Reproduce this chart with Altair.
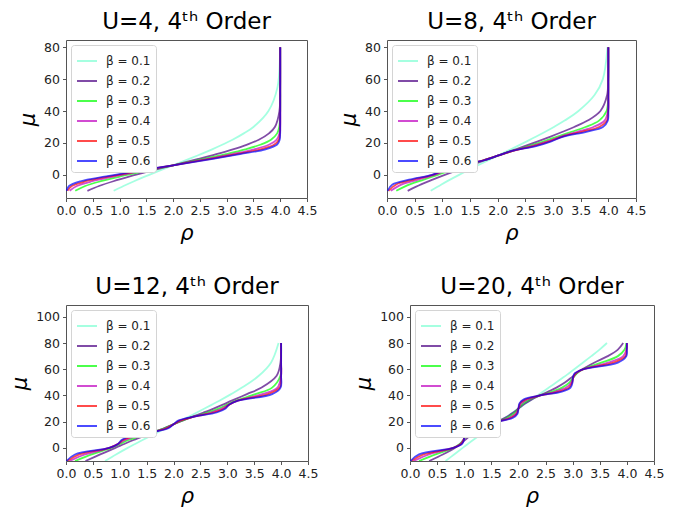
import altair as alt
import pandas as pd

BETA_LABELS = ["β = 0.1", "β = 0.2", "β = 0.3", "β = 0.4", "β = 0.5", "β = 0.6"]
COLORS = ["#7FFFD4", "#4B0082", "#00FF00", "#BF00BF", "#FF0000", "#0000FF"]

X_TICKS = [0.0, 0.5, 1.0, 1.5, 2.0, 2.5, 3.0, 3.5, 4.0, 4.5]
Y_TICKS_TOP = [0, 20, 40, 60, 80]
Y_TICKS_BOTTOM = [0, 20, 40, 60, 80, 100]

# ---------------- U = 4 ----------------
MU_U4 = [-10, -7, -4, -1, 2, 6, 10, 13, 16, 19, 22, 26, 30, 40, 55, 80]
RHO_U4 = [
    [0.89, 1.074, 1.271, 1.481, 1.70, 2.0, 2.30, 2.519, 2.729, 2.926, 3.11, 3.32, 3.50, 3.78, 3.949, 3.996],
    [0.40, 0.617, 0.885, 1.193, 1.530, 2.0, 2.47, 2.807, 3.115, 3.383, 3.60, 3.79, 3.90, 3.985, 3.999, 4.0],
    [0.173, 0.359, 0.65, 1.016, 1.424, 2.0, 2.576, 2.984, 3.35, 3.641, 3.827, 3.943, 3.982, 3.999, 4.0, 4.0],
    [0.068, 0.202, 0.488, 0.897, 1.352, 2.0, 2.648, 3.103, 3.512, 3.798, 3.932, 3.985, 3.997, 4.0, 4.0, 4.0],
    [0.026, 0.108, 0.367, 0.813, 1.299, 2.0, 2.701, 3.187, 3.633, 3.892, 3.974, 3.996, 4.0, 4.0, 4.0, 4.0],
    [0.0098, 0.057, 0.272, 0.751, 1.256, 2.0, 2.744, 3.249, 3.728, 3.943, 3.99, 3.999, 4.0, 4.0, 4.0, 4.0],
]

# ---------------- U = 8 ----------------
MU_U8 = [-10, -6, -3, 0, 3, 6, 9, 12, 15, 18, 21, 24, 27, 30, 34, 40, 50, 60, 80]
RHO_U8 = [
    [0.79, 0.984, 1.14, 1.303, 1.473, 1.646, 1.822, 2.0, 2.178, 2.354, 2.527, 2.697, 2.86, 3.016, 3.21, 3.46, 3.751, 3.901, 3.985],
    [0.374, 0.617, 0.825, 1.044, 1.274, 1.513, 1.757, 2.0, 2.243, 2.487, 2.726, 2.956, 3.175, 3.383, 3.626, 3.857, 3.978, 3.997, 4.0],
    [0.168, 0.412, 0.665, 0.919, 1.168, 1.442, 1.730, 2.0, 2.27, 2.558, 2.832, 3.081, 3.335, 3.588, 3.832, 3.968, 3.998, 4.0, 4.0],
    [0.068, 0.269, 0.561, 0.856, 1.101, 1.392, 1.723, 2.0, 2.277, 2.608, 2.899, 3.144, 3.439, 3.731, 3.932, 3.993, 4.0, 4.0, 4.0],
    [0.026, 0.166, 0.476, 0.826, 1.057, 1.347, 1.729, 2.0, 2.271, 2.653, 2.943, 3.174, 3.524, 3.834, 3.974, 3.999, 4.0, 4.0, 4.0],
    [0.0098, 0.098, 0.399, 0.812, 1.030, 1.306, 1.741, 2.0, 2.259, 2.694, 2.970, 3.188, 3.601, 3.902, 3.990, 4.0, 4.0, 4.0, 4.0],
]

# ---------------- U = 12 ----------------
MU_U12 = [-10, -5, 0, 3, 6, 9, 12, 15, 18, 21, 24, 27, 30, 33, 36, 41, 46, 55, 65, 80]
RHO_U12 = [
    [0.727, 0.930, 1.148, 1.285, 1.424, 1.566, 1.710, 1.855, 2.0, 2.145, 2.29, 2.434, 2.576, 2.715, 2.852, 3.07, 3.273, 3.585, 3.8115, 3.9525],
    [0.362, 0.636, 0.919, 1.083, 1.256, 1.442, 1.635, 1.822, 2.0, 2.178, 2.365, 2.558, 2.744, 2.917, 3.081, 3.364, 3.638, 3.917, 3.988, 3.999],
    [0.167, 0.478, 0.838, 1.0, 1.161, 1.369, 1.610, 1.827, 2.0, 2.173, 2.39, 2.631, 2.839, 3.0, 3.162, 3.522, 3.833, 3.987, 3.999, 4.0],
    [0.068, 0.352, 0.812, 0.969, 1.098, 1.306, 1.603, 1.850, 2.0, 2.15, 2.397, 2.694, 2.902, 3.031, 3.188, 3.648, 3.932, 3.998, 4.0, 4.0],
    [0.026, 0.247, 0.804, 0.964, 1.057, 1.249, 1.601, 1.878, 2.0, 2.122, 2.399, 2.751, 2.943, 3.036, 3.196, 3.753, 3.974, 4.0, 4.0, 4.0],
    [0.0098, 0.166, 0.801, 0.967, 1.033, 1.198, 1.600, 1.904, 2.0, 2.096, 2.4, 2.802, 2.967, 3.033, 3.199, 3.834, 3.990, 4.0, 4.0, 4.0],
]

# ---------------- U = 20 ----------------
MU_U20 = [-10, -5, 0, 3, 6, 10, 14, 17, 20, 23, 26, 30, 34, 37, 40, 43, 46, 50, 54, 57, 60, 65, 70, 75, 80]
RHO_U20 = [
    [0.656, 0.813, 0.971, 1.067, 1.164, 1.299, 1.438, 1.544, 1.651, 1.757, 1.862, 2.0, 2.138, 2.243, 2.349, 2.456, 2.562, 2.701, 2.836, 2.933, 3.029, 3.187, 3.344, 3.496, 3.633],
    [0.353, 0.604, 0.826, 0.927, 1.014, 1.137, 1.299, 1.450, 1.607, 1.751, 1.870, 2.0, 2.13, 2.249, 2.393, 2.550, 2.701, 2.863, 2.986, 3.073, 3.174, 3.396, 3.647, 3.834, 3.932],
    [0.166, 0.472, 0.804, 0.917, 0.982, 1.057, 1.195, 1.378, 1.601, 1.791, 1.911, 2.0, 2.089, 2.209, 2.399, 2.622, 2.805, 2.943, 3.018, 3.083, 3.196, 3.528, 3.834, 3.958, 3.990],
    [0.068, 0.351, 0.8005, 0.932, 0.983, 1.022, 1.119, 1.311, 1.600, 1.833, 1.945, 2.0, 2.055, 2.167, 2.400, 2.689, 2.881, 2.978, 3.017, 3.068, 3.200, 3.649, 3.932, 3.990, 3.999],
    [0.026, 0.247, 0.800, 0.948, 0.989, 1.008, 1.069, 1.251, 1.600, 1.871, 1.969, 2.0, 2.031, 2.129, 2.400, 2.749, 2.931, 2.992, 3.011, 3.053, 3.200, 3.753, 3.974, 3.998, 4.0],
    [0.0098, 0.166, 0.800, 0.960, 0.994, 1.003, 1.039, 1.199, 1.600, 1.901, 1.982, 2.0, 2.018, 2.099, 2.400, 2.801, 2.961, 2.997, 3.006, 3.040, 3.200, 3.834, 3.990, 4.0, 4.0],
]

FONT = "DejaVu Sans"


def make_df(mu, rhos):
    rows = []
    for label, rho in zip(BETA_LABELS, rhos):
        for i, (m, r) in enumerate(zip(mu, rho)):
            rows.append({"beta": label, "mu": m, "rho": r, "i": i})
    return pd.DataFrame(rows)


def panel(title, mu, rhos, ydomain, yticks, w, h):
    df = make_df(mu, rhos)
    return (
        alt.Chart(
            df,
            title=alt.TitleParams(
                title, fontSize=23, font=FONT, fontWeight="normal",
                color="black", offset=6, anchor="middle",
            ),
        )
        .mark_line(interpolate="catmull-rom", strokeWidth=1.8, opacity=0.7, clip=True)
        .encode(
            x=alt.X(
                "rho:Q",
                scale=alt.Scale(domain=[0, 4.5], nice=False, zero=False),
                axis=alt.Axis(values=X_TICKS, format=".1f", title="ρ",
                              labelOverlap=False, labelFlush=False),
            ),
            y=alt.Y(
                "mu:Q",
                scale=alt.Scale(domain=ydomain, nice=False, zero=False),
                axis=alt.Axis(values=yticks, title="μ", labelOverlap=False,
                              labelFlush=False),
            ),
            color=alt.Color(
                "beta:N",
                scale=alt.Scale(domain=BETA_LABELS, range=COLORS),
                legend=alt.Legend(
                    title=None, orient="top-left", offset=5, padding=5,
                    fillColor="white", strokeColor="#d4d4d4", cornerRadius=3,
                    symbolType="stroke", symbolSize=400, symbolStrokeWidth=2,
                    symbolOpacity=0.7, labelFontSize=12, labelFont=FONT,
                    labelColor="#222", labelOffset=8, rowPadding=3,
                ),
            ),
            order="i:Q",
        )
        .properties(width=w, height=h)
    )


p1 = panel("U=4, 4ᵗʰ Order", MU_U4, RHO_U4, [-14.5, 84.5], Y_TICKS_TOP, 241, 158)
p2 = panel("U=8, 4ᵗʰ Order", MU_U8, RHO_U8, [-14.5, 84.5], Y_TICKS_TOP, 249, 158)
p3 = panel("U=12, 4ᵗʰ Order", MU_U12, RHO_U12, [-10, 109], Y_TICKS_BOTTOM, 242, 156)
p4 = panel("U=20, 4ᵗʰ Order", MU_U20, RHO_U20, [-10, 109], Y_TICKS_BOTTOM, 244, 156)

row1 = alt.hconcat(p1, p2, spacing=20).resolve_scale(color="independent")
row2 = alt.hconcat(p3, p4, spacing=34).resolve_scale(color="independent")

chart = (
    alt.concat(row1, row2, columns=1, align="none", spacing=31)
    .resolve_scale(color="independent")
    .configure_view(stroke="#555", strokeWidth=1)
    .configure_axis(
        domain=False, grid=False,
        tickSize=3.5, tickColor="#555", tickWidth=1,
        labelFont=FONT, labelFontSize=12.5, labelColor="#222", labelPadding=3,
        titleFont=FONT, titleFontSize=21, titleFontStyle="italic",
        titleFontWeight="normal", titleColor="black", titlePadding=5,
    )
    .properties(background="white", padding={"left": 1, "top": 2, "right": 5, "bottom": 5})
)

chart.save("out.html", embed_options={"renderer": "svg", "actions": False})
